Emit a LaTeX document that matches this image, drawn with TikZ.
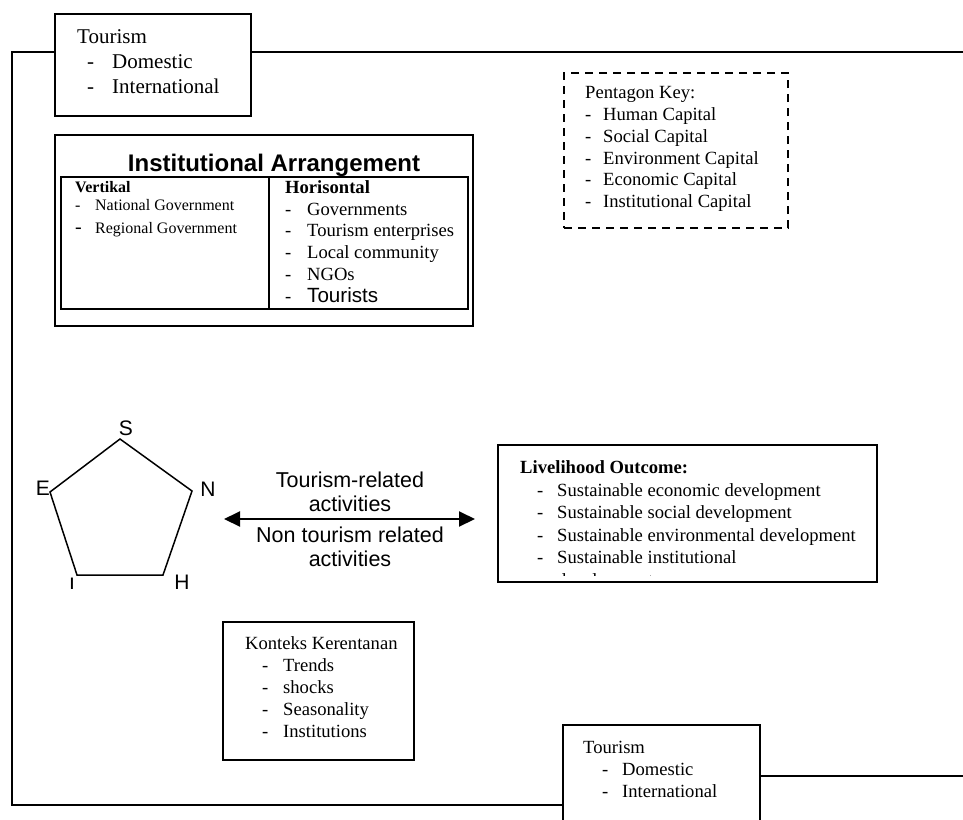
\documentclass[tikz,border=0pt]{standalone}
\usepackage{fontspec}
\setmainfont{Liberation Serif}
\newfontfamily\arialfont{Liberation Sans}
\usetikzlibrary{arrows.meta}
\newcommand{\listdash}[2]{\makebox[#1][l]{-}#2}
\tikzset{
  box/.style={draw, line width=2pt, inner sep=0pt},
  keybox/.style={draw, line width=2pt, dash pattern=on 8pt off 6pt, inner sep=0pt},
  frame/.style={line width=2.5pt},
  txt/.style={anchor=north west, inner sep=0pt, align=left},
  lbl/.style={inner sep=0pt, font=\arialfont\fontsize{21}{24}\selectfont},
}

\begin{document}
\begin{tikzpicture}[x=1pt,y=-1pt]
\clip (0,0) rectangle (963,819);
% boxes
\node[box, minimum width=196pt, minimum height=102pt] (tour1) at (153,65) {};
\node[box, minimum width=197pt, minimum height=135pt] (tour2) at (661.5,792.5) {};
\node[box, minimum width=418pt, minimum height=191pt] (inst) at (264,230.5) {};
\node[box, minimum width=208pt, minimum height=132pt] (cell1) at (165,243) {};
\node[box, minimum width=199pt, minimum height=132pt] (cell2) at (368.5,243) {};
\node[keybox, minimum width=224pt, minimum height=155pt] (key) at (676,150.5) {};
\node[box, minimum width=379pt, minimum height=137pt] (live) at (687.5,513.5) {};
\node[box, minimum width=191pt, minimum height=138pt] (kon) at (318.5,691) {};
% frame
\coordinate (fr1) at (12,52);
\coordinate (fr2) at (12,805);
\coordinate (fr3) at (963,52);
\coordinate (fr4) at (963,776);
\draw[frame] (tour1.west |- fr1) -- (fr1) -- (fr2) -- (tour2.west |- fr2);
\draw[frame] (tour1.east |- fr3) -- (fr3);
\draw[frame] (tour2.east |- fr4) -- (fr4);
% texts
\node[txt, font=\fontsize{21}{25}\selectfont] (t1) at (77,29.7) {Tourism\\
  \hspace*{10pt}\listdash{25pt}{Domestic}\\
  \hspace*{10pt}\listdash{25pt}{International}};
\node[txt, font=\fontsize{18.6}{22}\selectfont] (t2) at (583,741.4) {Tourism\\
  \hspace*{19pt}\listdash{20pt}{Domestic}\\
  \hspace*{19pt}\listdash{20pt}{International}};
\node[anchor=base, inner sep=0pt, font=\arialfont\bfseries\fontsize{24}{28}\selectfont] (t3) at (274,171) {Institutional Arrangement};
\node[txt, font=\fontsize{16}{18}\selectfont] (t4) at (75,181) {\textbf{Vertikal}\\
  \listdash{20pt}{National Government}\\[5pt]
  \makebox[20pt][l]{\fontsize{20}{20}\selectfont -}Regional Government};
\node[txt, font=\fontsize{18.6}{21.7}\selectfont] (t5) at (285,180.4) {\textbf{Horisontal}\\
  \listdash{22pt}{Governments}\\
  \listdash{22pt}{Tourism enterprises}\\
  \listdash{22pt}{Local community}\\
  \listdash{22pt}{NGOs}\\
  \listdash{22pt}{{\arialfont\fontsize{20.6}{21.7}\selectfont Tourists}}};
\node[txt, font=\fontsize{18.6}{21.8}\selectfont] (t6) at (585,86.4) {Pentagon Key:\\
  \listdash{18pt}{Human Capital}\\
  \listdash{18pt}{Social Capital}\\
  \listdash{18pt}{Environment Capital}\\
  \listdash{18pt}{Economic Capital}\\
  \listdash{18pt}{Institutional Capital}};
\begin{scope}
\clip (498,445) rectangle (877,575);
\node[txt, font=\fontsize{18.6}{22.5}\selectfont] (t7) at (520,460.4) {\textbf{Livelihood Outcome:}\\
  \hspace*{17pt}\listdash{20pt}{Sustainable economic development}\\
  \hspace*{17pt}\listdash{20pt}{Sustainable social development}\\
  \hspace*{17pt}\listdash{20pt}{Sustainable environmental development}\\
  \hspace*{17pt}\listdash{20pt}{Sustainable institutional}\\
  \hspace*{37pt}development};
\end{scope}
\node[txt, font=\fontsize{18.6}{22}\selectfont] (t8) at (245,636.4) {Konteks Kerentanan\\
  \hspace*{17pt}\listdash{21pt}{Trends}\\
  \hspace*{17pt}\listdash{21pt}{shocks}\\
  \hspace*{17pt}\listdash{21pt}{Seasonality}\\
  \hspace*{17pt}\listdash{21pt}{Institutions}};
% pentagon
\coordinate (pS) at (120,439);
\coordinate (pN) at (192,491);
\coordinate (pH) at (163,575);
\coordinate (pI) at (77,575);
\coordinate (pE) at (50,492);
\draw[line width=1.5pt] (pS) -- (pN) -- (pH) -- (pI) -- (pE) -- cycle;
\node[lbl] (lS) at (126,428) {S};
\node[lbl] (lN) at (208,489) {N};
\node[lbl] (lE) at (43,488) {E};
\node[lbl] (lH) at (182,582) {H};
\begin{scope}
\clip (50,560) rectangle (100,588);
\node[lbl] (lI) at (72,585.5) {I};
\end{scope}
% activities
\coordinate (a1) at (224,519);
\coordinate (a2) at (475,519);
\draw[line width=2pt, {Triangle[length=16pt,width=15pt]}-{Triangle[length=16pt,width=15pt]}] (a1) -- (a2);
\node[align=center, inner sep=0pt, font=\arialfont\fontsize{21.5}{24.5}\selectfont] (t9) at (350,492) {Tourism-related\\activities};
\node[align=center, inner sep=0pt, font=\arialfont\fontsize{21.5}{24.5}\selectfont] (t10) at (350,547) {Non tourism related\\activities};
\end{tikzpicture}
\end{document}
